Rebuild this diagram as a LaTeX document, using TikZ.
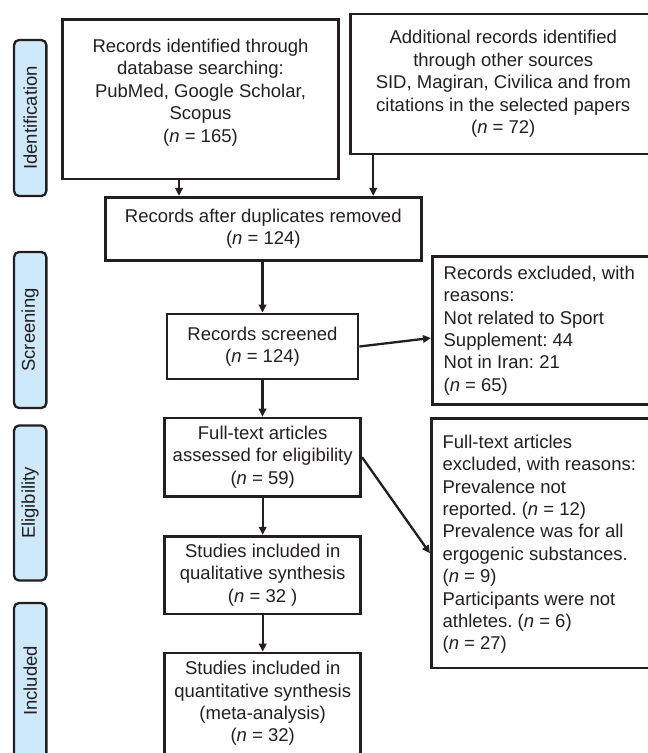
\documentclass[tikz,border=0pt]{standalone}
\usepackage{fontspec}
\setmainfont{Liberation Sans}
\usetikzlibrary{arrows.meta,calc}
\definecolor{sidefill}{RGB}{205,233,250}
\definecolor{inkc}{RGB}{35,31,32}
\tikzset{
  txtfont/.style={font=\fontsize{18.5pt}{22.4pt}\selectfont\frenchspacing, text=inkc},
  flowbox/.style={draw=inkc, line width=2.7pt, inner sep=0pt, align=center, txtfont},
  sidebox/.style={draw=inkc, fill=sidefill, line width=2.3pt, rounded corners=5pt, inner sep=0pt, rotate=90, minimum height=32.3pt, txtfont},
  lefttext/.style={align=left, inner sep=0pt, anchor=west, txtfont},
  arr/.style={draw=inkc, line width=2.3pt, -{Triangle[length=8pt,width=7.5pt]}}
}
\begin{document}
\begin{tikzpicture}[x=1pt,y=-1pt]
\useasboundingbox (0,0) rectangle (648,753);
\clip (0,0) rectangle (648,753);
% side labels
\node[sidebox, minimum width=156pt] (sId) at (30.2,118) {Identification};
\node[sidebox, minimum width=156pt] (sSc) at (30.2,330) {Screening};
\node[sidebox, minimum width=155pt] (sEl) at (30.2,503) {Eligibility};
\node[sidebox, minimum width=156pt] (sIn) at (30.2,681) {Included};
% main boxes
\node[flowbox, minimum width=276pt, minimum height=159.5pt] (b1) at (200.5,99.25)
  {Records identified through\\database searching:\\PubMed, Google Scholar,\\Scopus\\(\textit{n} = 165)\\[-5pt]\mbox{}};
\node[flowbox, minimum width=305.5pt, minimum height=140pt] (b2) at (503.25,84)
  {Additional records identified\\through other sources\\SID, Magiran, Civilica and from\\citations in the selected papers\\(\textit{n} = 72)};
\node[flowbox, minimum width=316pt, minimum height=63.5pt] (b3) at (263.3,229)
  {Records after duplicates removed\\(\textit{n} = 124)};
\node[flowbox, minimum width=191pt, minimum height=65pt] (b4) at (262.5,346.5)
  {Records screened\\(\textit{n} = 124)};
\node[flowbox, minimum width=196pt, minimum height=78.3pt] (b5) at (262.7,457.2)
  {Full-text articles\\assessed for eligibility\\(\textit{n} = 59)};
\node[flowbox, minimum width=196pt, minimum height=77.8pt] (b6) at (262.7,575.1)
  {Studies included in\\qualitative synthesis\\(\textit{n} = 32 )};
\node[flowbox, minimum width=196pt, minimum height=101pt] (b7) at (262.7,703.5)
  {Studies included in\\quantitative synthesis\\(meta-analysis)\\(\textit{n} = 32)};
% exclusion boxes
\node[flowbox, minimum width=224pt, minimum height=148.4pt] (bA) at (544.3,330.5) {};
\node[lefttext] (tA) at ([xshift=12.5pt]bA.west)
  {Records excluded, with\\reasons:\\Not related to Sport\\Supplement: 44\\Not in Iran: 21\\(\textit{n} = 65)};
\node[flowbox, minimum width=225pt, minimum height=249.3pt] (bB) at (543.8,543.3) {};
\node[lefttext] (tB) at ([xshift=12.5pt,yshift=-1pt]bB.west)
  {Full-text articles\\excluded, with reasons:\\Prevalence not\\reported. (\textit{n} = 12)\\Prevalence was for all\\ergogenic substances.\\(\textit{n} = 9)\\Participants were not\\athletes. (\textit{n} = 6)\\(\textit{n} = 27)};
% connectors
\coordinate (c1) at ([xshift=-21.5pt]b1.south);
\coordinate (c2) at ([xshift=-130pt]b2.south);
\draw[arr] (c1) -- (c1 |- b3.north);
\draw[arr] (c2) -- (c2 |- b3.north);
\draw[arr] (b4.north |- b3.south) -- (b4.north);
\draw[arr] (b4.south) -- (b4.south |- b5.north);
\draw[arr] (b5.south) -- (b6.north);
\draw[arr] (b6.south) -- (b7.north);
\draw[arr] (b4.east) -- ([yshift=-7.5pt]bA.west);
\draw[arr] (b5.east) -- ([yshift=-10pt]bB.west);
\end{tikzpicture}
\end{document}
